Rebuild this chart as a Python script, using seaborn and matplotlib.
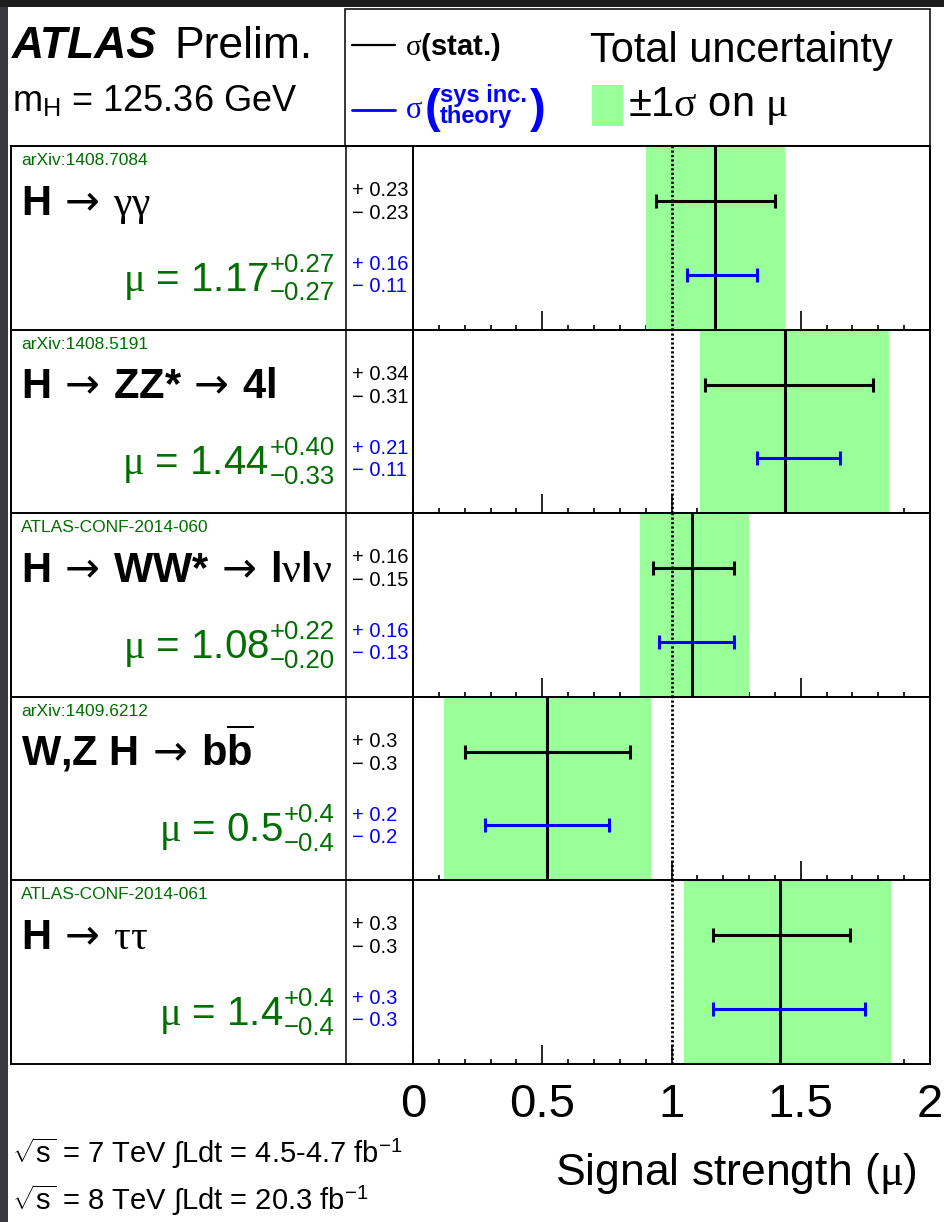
import matplotlib
matplotlib.use("Agg")
import matplotlib.pyplot as plt
import seaborn as sns
from matplotlib.patches import Rectangle
from matplotlib.ticker import FixedLocator, MultipleLocator


# ---- data ----
refs = ["arXiv:1408.7084", "arXiv:1408.5191", "ATLAS-CONF-2014-060",
        "arXiv:1409.6212", "ATLAS-CONF-2014-061"]
ARROW = r"$\mathsf{\:\rightarrow\:}$"
channels = [r"H" + ARROW + r"$\gamma\gamma$",
            r"H" + ARROW + r"ZZ*" + ARROW + r"4l",
            r"H" + ARROW + r"WW*" + ARROW + r"l$\nu$l$\nu$",
            r"W,Z H" + ARROW + r"b$\overline{\mathbf{b}}$",
            r"H" + ARROW + r"$\tau\tau$"]
mu = [1.17, 1.44, 1.08, 0.52, 1.42]
tot_up = [0.27, 0.40, 0.22, 0.40, 0.43]
tot_dn = [0.27, 0.33, 0.20, 0.40, 0.37]
stat_up = [0.23, 0.34, 0.16, 0.32, 0.27]
stat_dn = [0.23, 0.31, 0.15, 0.32, 0.26]
sys_up = [0.16, 0.21, 0.16, 0.24, 0.33]
sys_dn = [0.11, 0.11, 0.13, 0.24, 0.26]
decimals = [2, 2, 2, 1, 1]
xticks = [0, 0.5, 1, 1.5, 2]
xtick_labels = ["0", "0.5", "1", "1.5", "2"]

GREEN_BAND = "#99ff99"
GREEN_TXT = "#006e00"
BLUE = "#0000ff"
MINUS = "\u2212"

sns.set_theme(style="white", rc={"axes.edgecolor": "black", "xtick.color": "black",
                                 "text.color": "black", "axes.labelcolor": "black"})
plt.rcParams["font.family"] = ["Liberation Sans", "DejaVu Sans"]
plt.rcParams.update({
    "mathtext.fontset": "custom",
    "mathtext.rm": "Liberation Sans",
    "mathtext.sf": "DejaVu Sans",
    "mathtext.it": "Liberation Serif",
    "mathtext.bf": "Liberation Sans:bold",
})

W, H = 944, 1222
fig = plt.figure(figsize=(W / 100, H / 100), dpi=100)
fig.patch.set_facecolor("#1e1e1e")

# background canvas in pixel coordinates
bg = fig.add_axes([0, 0, 1, 1])
bg.set_xlim(0, W)
bg.set_ylim(H, 0)
bg.axis("off")
bg.add_patch(Rectangle((8, 7), W - 8, H - 7, facecolor="white", lw=0))
bg.add_patch(Rectangle((0, 7), 8, H - 7, facecolor="#3a3940", lw=0))

X_LEFT, X_COL, X0, X1 = 11, 346, 413, 930
TOP, ROW_H = 146, 183.6
n = len(mu)
BOTTOM = TOP + n * ROW_H

# frames
bg.add_patch(Rectangle((345, 9), X1 - 345, TOP - 9, fill=False, ec="black", lw=1.1))
bg.add_patch(Rectangle((X_LEFT, TOP), X1 - X_LEFT, BOTTOM - TOP, fill=False, ec="black", lw=1.4))
for i in range(1, n):
    y = TOP + i * ROW_H
    bg.plot([X_LEFT, X1], [y, y], color="black", lw=1.4)
bg.plot([X_COL, X_COL], [TOP, BOTTOM], color="black", lw=1.1)

# header
bg.text(12, 58, "ATLAS", fontsize=32, fontweight="bold", fontstyle="italic", va="baseline")
bg.text(174, 58, "Prelim.", fontsize=32, va="baseline")
bg.text(12, 112, r"$\mathrm{m}_{\mathrm{H}}$ = 125.36 GeV", fontsize=26, va="baseline")

bg.plot([352, 395], [45, 45], color="black", lw=1.6)
bg.text(405, 55, r"$\sigma$(stat.)", fontsize=21, fontweight="bold", va="baseline")
bg.plot([352, 395], [110, 110], color=BLUE, lw=2)
bg.text(405, 118, r"$\sigma$", fontsize=22, color=BLUE, va="baseline")
bg.text(425, 122, "(", fontsize=34, fontweight="bold", color=BLUE, va="baseline")
bg.text(440, 102, "sys inc.", fontsize=17, fontweight="bold", color=BLUE, va="baseline")
bg.text(440, 123, "theory", fontsize=17, fontweight="bold", color=BLUE, va="baseline")
bg.text(530, 122, ")", fontsize=34, fontweight="bold", color=BLUE, va="baseline")

bg.text(590, 62, "Total uncertainty", fontsize=30, va="baseline")
bg.add_patch(Rectangle((592, 85), 31, 41, facecolor=GREEN_BAND, lw=0))
bg.text(628, 116, r"$\pm$1$\sigma$ on $\mu$", fontsize=30, va="baseline")

renderer = fig.canvas.get_renderer()

# rows
for i in range(n):
    T = TOP + i * ROW_H
    d = decimals[i]

    bg.text(21, T + 19, refs[i], fontsize=12.5, color=GREEN_TXT, va="baseline")
    bg.text(21, T + 68.5, channels[i], fontsize=30, fontweight="bold", va="baseline")

    sup = bg.text(335, T + 125.5, f"+{tot_up[i]:.{d}f}", fontsize=18.5, color=GREEN_TXT,
                  ha="right", va="baseline")
    sub = bg.text(335, T + 154.5, f"{MINUS}{tot_dn[i]:.{d}f}", fontsize=18.5, color=GREEN_TXT,
                  ha="right", va="baseline")
    left = min(sup.get_window_extent(renderer).x0, sub.get_window_extent(renderer).x0)
    bg.text(left - 1, T + 144.5, rf"$\mu$ = {mu[i]:.{d}f}", fontsize=29, color=GREEN_TXT,
            ha="right", va="baseline")

    bg.text(352, T + 50, f"+ {stat_up[i]:.{d}f}", fontsize=14.5, va="baseline")
    bg.text(352, T + 73, f"{MINUS} {stat_dn[i]:.{d}f}", fontsize=14.5, va="baseline")
    bg.text(352, T + 124, f"+ {sys_up[i]:.{d}f}", fontsize=14.5, color=BLUE, va="baseline")
    bg.text(352, T + 146, f"{MINUS} {sys_dn[i]:.{d}f}", fontsize=14.5, color=BLUE, va="baseline")

    ax = fig.add_axes([X0 / W, 1 - (T + ROW_H) / H, (X1 - X0) / W, ROW_H / H])
    ax.set_xlim(0, 2)
    ax.set_ylim(1, 0)
    ax.set_facecolor("white")
    ax.axvspan(mu[i] - tot_dn[i], mu[i] + tot_up[i], color=GREEN_BAND, lw=0, zorder=1)
    ax.axvline(1, color="black", lw=2.0, ls=(0, (0.8, 0.8)), zorder=2)
    ax.axvline(mu[i], color="black", lw=2.2, zorder=3)
    ax.errorbar(mu[i], 0.3, xerr=[[stat_dn[i]], [stat_up[i]]], fmt="none", ecolor="black",
                elinewidth=2.2, capsize=4.7, capthick=2.2, zorder=4)
    ax.errorbar(mu[i], 0.7, xerr=[[sys_dn[i]], [sys_up[i]]], fmt="none", ecolor=BLUE,
                elinewidth=2.2, capsize=4.7, capthick=2.2, zorder=4)
    ax.set_yticks([])
    ax.xaxis.set_major_locator(FixedLocator(xticks))
    ax.xaxis.set_minor_locator(MultipleLocator(0.1))
    ax.set_xticklabels(xtick_labels)
    ax.tick_params(axis="x", which="major", direction="in", length=13.7, width=1.2,
                   bottom=True, top=False, labelbottom=(i == n - 1), labelsize=34, pad=14)
    ax.tick_params(axis="x", which="minor", direction="in", length=3.6, width=1.2,
                   bottom=True, top=False)
    for s in ax.spines.values():
        s.set_linewidth(1.4)
        s.set_color("black")
        s.set_visible(True)

# footer
bg.text(12, 1163, r"$\sqrt{\mathrm{s}}$ = 7 TeV $\int$Ldt = 4.5-4.7 fb$^{-1}$", fontsize=21, va="baseline")
bg.text(12, 1210, r"$\sqrt{\mathrm{s}}$ = 8 TeV $\int$Ldt = 20.3 fb$^{-1}$", fontsize=21, va="baseline")
bg.text(917, 1185, r"Signal strength ($\mu$)", fontsize=32, ha="right", va="baseline")

fig.savefig("out.png", dpi=100, facecolor=fig.get_facecolor())
